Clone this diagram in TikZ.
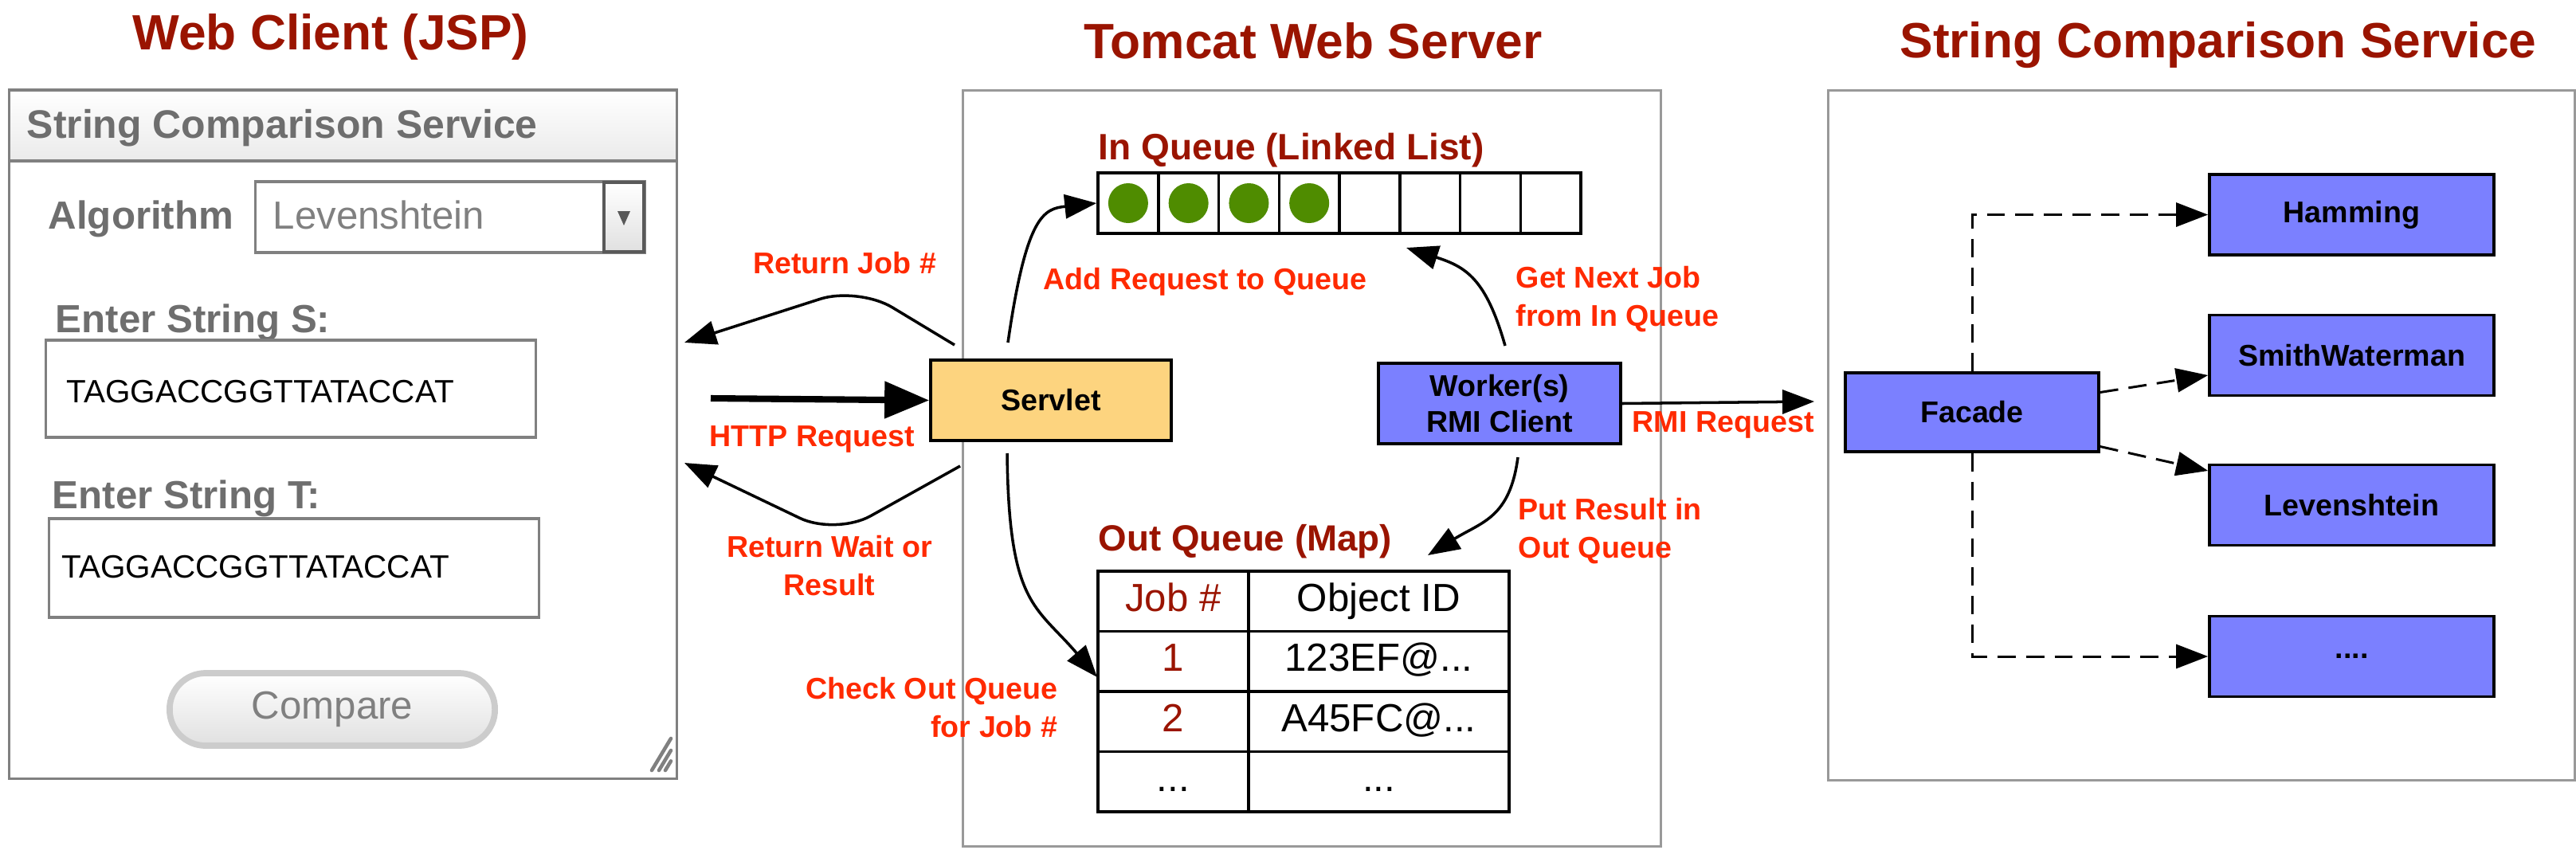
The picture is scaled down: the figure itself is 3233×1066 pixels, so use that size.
\documentclass[tikz,border=0pt]{standalone}
\usepackage{fontspec}
\setmainfont{Liberation Sans}
\usetikzlibrary{arrows.meta}
\definecolor{titlered}{HTML}{9A1400}
\definecolor{lblred}{HTML}{FF2A00}
\definecolor{uigray}{HTML}{6E6E6E}
\definecolor{boxgray}{HTML}{999999}
\definecolor{servletfill}{HTML}{FDD47F}
\definecolor{rmiblue}{HTML}{7B80FF}
\definecolor{jobgreen}{HTML}{4F8C00}
\newcommand{\etcdots}{...}
\tikzset{
  title/.style={font=\bfseries\fontsize{17.7}{20}\selectfont, text=titlered, anchor=base, inner sep=0pt},
  lbl/.style={font=\bfseries\fontsize{10.7}{13.4}\selectfont, text=lblred, inner sep=0pt},
  ui/.style={font=\bfseries\fontsize{14}{16}\selectfont, text=uigray, inner sep=0pt, anchor=base west},
  seq/.style={font=\fontsize{11.5}{13}\selectfont, inner sep=0pt, anchor=base west},
  pane/.style={draw=boxgray, line width=0.9pt, inner sep=0pt},
  comp/.style={draw, line width=1pt, inner sep=0pt, font=\bfseries\fontsize{10.7}{12.8}\selectfont, align=center},
  qcell/.style={draw, line width=1pt, minimum width=0.7575cm, minimum height=0.76cm, inner sep=0pt},
  jobdot/.style={circle, fill=jobgreen, minimum size=0.5cm, inner sep=0pt},
  tcell/.style={draw, line width=1pt, minimum height=0.755cm, inner sep=0pt, font=\fontsize{14}{16}\selectfont, text height=10pt, text depth=3pt},
  arr/.style={-{Triangle[length=0.4cm,width=0.3cm]}, line width=1pt},
  dep/.style={arr, line width=0.85pt, dash pattern=on 6.5pt off 3.7pt},
  grip/.style={draw=black!50, line width=1.3pt, line cap=round}
}
\begin{document}
\begin{tikzpicture}[x=0.01cm, y=-0.01cm]
  \useasboundingbox (0,0) rectangle (3233,1066);
  % the three panes
  \node[pane, draw=black!50, minimum width=8.37cm, minimum height=8.64cm] (client) at (430.5,545) {};
  \node[pane, draw=black!50, top color=white, bottom color=black!8, minimum width=8.37cm, minimum height=0.89cm] (head) at (430.5,157.5) {};
  \node[pane, minimum width=8.75cm, minimum height=9.48cm] (server) at (1646.5,588) {};
  \node[pane, minimum width=9.36cm, minimum height=8.65cm] (service) at (2763,546.5) {};
  \node[title] at (415,62) {Web Client (JSP)};
  \node[title] at (1648,73) {Tomcat Web Server};
  \node[title] at (2784,72) {String Comparison Service};

  % web form
  \node[ui, font=\bfseries\fontsize{14.2}{16}\selectfont] at (33,173) {String Comparison Service};
  \node[ui] (algolbl) at (60,287) {Algorithm};
  \node[pane, draw=black!50, minimum width=4.88cm, minimum height=0.89cm] (algo) at (565,272.5) {};
  \node[draw=black!65, line width=1.4pt, top color=white, bottom color=black!12, minimum width=0.5cm, minimum height=0.87cm, inner sep=0pt] (drop) at (783,272.5) {};
  \fill[black!65] (775,265) -- (791,265) -- (783,283) -- cycle;
  \node[ui, font=\fontsize{14}{16}\selectfont, text=black!50] at (342,287) {Levenshtein};
  \node[ui] at (69,417) {Enter String S:};
  \node[pane, draw=black!50, minimum width=6.14cm, minimum height=1.22cm] (fieldS) at (365,488) {};
  \node[seq] at (83,505) {TAGGACCGGTTATACCAT};
  \node[ui] at (65,638) {Enter String T:};
  \node[pane, draw=black!50, minimum width=6.14cm, minimum height=1.24cm] (fieldT) at (369,713) {};
  \node[seq] at (77,725) {TAGGACCGGTTATACCAT};
  \node[draw=black!20, line width=2.2pt, rounded corners=0.45cm, top color=white, bottom color=black!12, minimum width=4.08cm, minimum height=0.91cm, font=\fontsize{14}{16}\selectfont, text=black!50] (compare) at (417,890.5) {Compare};
  \foreach \d in {0,9,17}
    \draw[grip] ({818+\d},967) -- (842,{927+\d*1.667});

  % in queue
  \node[lbl, text=titlered, font=\bfseries\fontsize{13.1}{15}\selectfont, anchor=base west] at (1378,200) {In Queue (Linked List)};
  \foreach \i in {0,...,7}
    \node[qcell] (q\i) at ({1415.9+75.75*\i},255) {};
  \foreach \i in {0,...,3}
    \node[jobdot] at (q\i) {};

  % out queue
  \node[lbl, text=titlered, font=\bfseries\fontsize{13}{15}\selectfont, anchor=base west] at (1378,691) {Out Queue (Map)};
  \foreach \job/\obj/\jc [count=\k from 0] in {{Job \#}/Object ID/titlered, 1/123EF@\etcdots/titlered, 2/A45FC@\etcdots/titlered, \etcdots/\etcdots/black} {
    \node[tcell, minimum width=1.89cm, text=\jc] (job\k) at (1472.5,{754.75+75.5*\k}) {\job};
    \node[tcell, minimum width=3.27cm] (obj\k) at (1730.5,{754.75+75.5*\k}) {\obj};
  }

  % components
  \node[comp, fill=servletfill, minimum width=3.02cm, minimum height=1.01cm] (servlet) at (1319,502.5) {Servlet};
  \node[comp, fill=rmiblue, minimum width=3.04cm, minimum height=1.01cm] (worker) at (1882,506.5) {Worker(s)\\RMI Client};
  \node[comp, fill=rmiblue, minimum width=3.18cm, minimum height=0.99cm] (facade) at (2475,517.5) {Facade};
  \foreach \n/\t/\y in {ham/Hamming/269.5, smith/SmithWaterman/446, leven/Levenshtein/634, more/\etcdots./824}
    \node[comp, fill=rmiblue, minimum width=3.57cm, minimum height=1.01cm] (\n) at (2951.5,\y) {\t};

  % connectors
  \coordinate (httpfrom) at (892,500);
  \coordinate (jobfrom) at (1198,433);
  \coordinate (jobto) at (859,430);
  \coordinate (waitfrom) at (1205,585);
  \coordinate (waitto) at (859,581);
  \coordinate (addfrom) at (1265,430);
  \coordinate (nextfrom) at (1889,434);
  \coordinate (nextto) at (1765,311);
  \coordinate (putfrom) at (1905,574);
  \coordinate (putto) at (1792,697);
  \coordinate (chkfrom) at (1264,569);
  \coordinate (chkto) at (1377,850);
  \coordinate (rmito) at (2277,504);
  \draw[line width=2.3pt, -{Triangle[length=0.56cm,width=0.45cm]}] (httpfrom) -- (servlet.west);
  \draw[arr, rounded corners=0.5cm] (jobfrom) -- (1077,360) -- (jobto);
  \draw[arr, rounded corners=0.5cm] (waitfrom) -- (1049,672) -- (waitto);
  \draw[arr] (addfrom) .. controls (1288,270) and (1310,262) .. (q0.west);
  \draw[arr] (nextfrom) .. controls (1865,350) and (1840,335) .. (nextto);
  \draw[arr] (putfrom) .. controls (1895,650) and (1860,655) .. (putto);
  \draw[arr] (chkfrom) .. controls (1266,760) and (1300,760) .. (chkto);
  \draw[arr] (worker.east) -- (rmito);
  \draw[dep] (facade.north) |- (ham.west);
  \draw[dep] ([yshift=0.25cm]facade.east) -- ([yshift=-0.25cm]smith.west);
  \draw[dep] ([yshift=-0.43cm]facade.east) -- ([yshift=0.43cm]leven.west);
  \draw[dep] (facade.south) |- (more.west);

  % labels
  \node[lbl, anchor=base] at (1060,343) {Return Job \#};
  \node[lbl, anchor=base west] at (890,560) {HTTP Request};
  \node[lbl, align=center, anchor=base] at (1041,747) {Return Wait or\\Result};
  \node[lbl, anchor=base west] at (1309,363) {Add Request to Queue};
  \node[lbl, align=left, anchor=base west] at (1902,409) {Get Next Job\\from In Queue};
  \node[lbl, align=left, anchor=base west] at (1905,700) {Put Result in\\Out Queue};
  \node[lbl, align=right, anchor=base east] at (1328,925) {Check Out Queue\\for Job \#};
  \node[lbl, anchor=base west] at (2048,542) {RMI Request};
\end{tikzpicture}
\end{document}
